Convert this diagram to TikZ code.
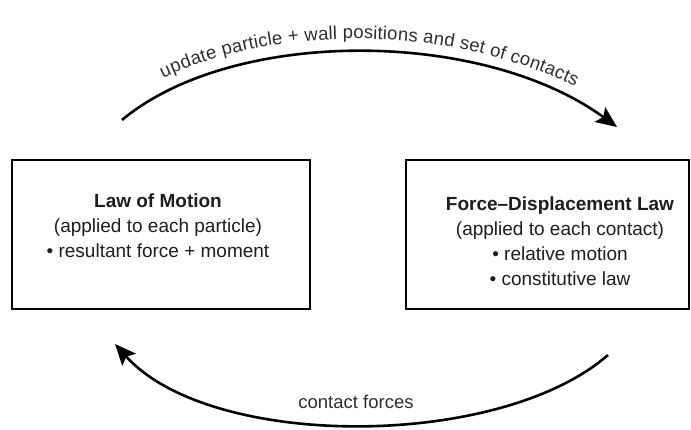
\documentclass[tikz,border=0pt]{standalone}
\usepackage{fontspec}
\setmainfont{Liberation Sans}
\usetikzlibrary{arrows.meta,decorations.text}
\newcommand\boxfont{\fontsize{19}{25}\selectfont}
\newcommand\lblfont{\fontsize{18.5}{22}\selectfont}
\definecolor{inkgray}{HTML}{1E1E1E}
\definecolor{lblgray}{HTML}{2E2E2E}
\begin{document}
\begin{tikzpicture}[x=1pt,y=1pt,
  boxstyle/.style={draw=black, line width=2pt, fill=white, inner sep=0pt, minimum height=149pt},
  txt/.style={align=center, text=inkgray, font=\boxfont, inner sep=0pt},
  flow/.style={line width=2.6pt, -{Stealth[length=21pt,width=18pt,inset=4pt]}},
  lbl/.style={text=lblgray, font=\lblfont}
]
\useasboundingbox (0,0) rectangle (691,429);
\node[boxstyle, minimum width=298pt] (lbox) at (161,194.5) {};
\node[boxstyle, minimum width=283pt] (rbox) at (547.5,194.5) {};
\node[txt] (ltext) at (158,203) {\textbf{Law of Motion}\\(applied to each particle)\\• resultant force + moment};
\node[txt] (rtext) at (560,188) {\textbf{Force–Displacement Law}\\(applied to each contact)\\• relative motion\\• constitutive law};
\coordinate (ta) at (122,309);
\coordinate (tb) at (617,302);
\coordinate (ba) at (608,74);
\coordinate (bb) at (115,85);
\draw[flow] (ta) .. controls (232,401) and (481,401) .. (tb);
\path[decorate, decoration={text along path, text={|\lblfont\color{lblgray}|update particle + wall positions and set of contacts}, text align=center, raise=13pt}] (ta) .. controls (232,401) and (481,401) .. (tb);
\draw[flow] (ba) .. controls (499,-21) and (210,-21) .. (bb);
\node[lbl, anchor=base] (cf) at (356,21) {contact forces};
\end{tikzpicture}
\end{document}
